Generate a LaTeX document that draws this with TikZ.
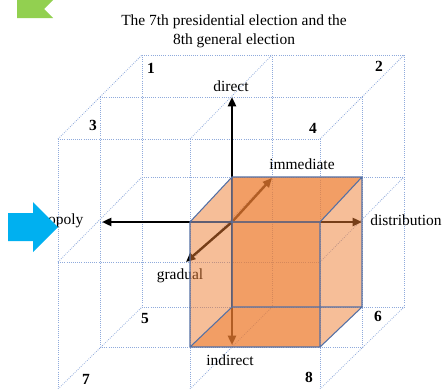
\documentclass[tikz,border=0pt]{standalone}
\usepackage{fontspec}
\setmainfont{Liberation Serif}
\usetikzlibrary{arrows.meta}
\definecolor{gridblue}{RGB}{143,170,220}
\definecolor{boxorange}{RGB}{237,125,49}
\definecolor{boxline}{RGB}{84,112,165}
\definecolor{flaggreen}{RGB}{146,208,80}
\definecolor{arrowcyan}{RGB}{0,176,240}
\newcommand{\labelsize}{\fontsize{11.6}{14.3}\selectfont}
\tikzset{
  gridline/.style={gridblue, densely dotted, line width=0.6pt},
  axis/.style={->, line width=1.8pt},
  boxedge/.style={boxline, line width=0.8pt},
  num/.style={font=\labelsize\bfseries}
}
\begin{document}
\begin{tikzpicture}[x=0.75pt,y=-0.75pt,>={Triangle[length=7pt,width=6pt]},font=\labelsize]
\useasboundingbox (0,0) rectangle (443,389);
% back, middle and front layers of the eight cubes
\draw[gridline] (142,55)--(404,55) (142,177)--(404,177) (142,307)--(404,307)
  (142,55)--(142,307) (272,55)--(272,307) (404,55)--(404,307);
\draw[gridline] (100,97)--(362,97) (100,222)--(362,222) (100,347)--(362,347)
  (100,97)--(100,347) (232,97)--(232,347) (362,97)--(362,347);
\draw[gridline] (58,139)--(320,139) (58,262)--(320,262) (58,389)--(320,389)
  (58,139)--(58,389) (190,139)--(190,389) (320,139)--(320,389);
\draw[gridline] (58,139)--(142,55) (190,139)--(272,55) (320,139)--(404,55)
  (58,262)--(142,177) (190,262)--(272,177) (320,262)--(404,177)
  (58,389)--(142,307) (190,389)--(272,307) (320,389)--(404,307);
% axes
\coordinate (O) at (232,222);
\coordinate (up) at (232,97);
\coordinate (dn) at (232,345);
\coordinate (lt) at (102,222);
\coordinate (rt) at (362,222);
\coordinate (fw) at (272,178);
\coordinate (bw) at (186,262);
\draw[axis] (O)--(up);
\draw[axis] (O)--(dn);
\draw[axis] (O)--(lt);
\draw[axis] (O)--(rt);
\draw[axis] (O)--(fw);
\draw[axis] (O)--(bw);
\node (direct) at (231,86) {direct};
\node (indirect) at (230,360) {indirect};
\node (monopoly) at (52,221) {monopoly};
\node (distribution) at (406,220) {distribution};
\node (immediate) at (302,164) {immediate};
\node (gradual) at (180,276) {gradual};
% the shaded cube
\fill[boxorange, fill opacity=0.75] (232,177)--(362,177)--(320,222)--(320,347)--(190,347)--(232,307)--cycle;
\fill[boxorange, fill opacity=0.5] (190,222)--(232,177)--(232,307)--(190,347)--cycle
  (320,222)--(362,177)--(362,307)--(320,347)--cycle;
\draw[boxedge] (190,222) rectangle (320,347) (232,177) rectangle (362,307)
  (190,222)--(232,177) (320,222)--(362,177) (190,347)--(232,307) (320,347)--(362,307);
% octant numbers
\node[num] (n1) at (151,68) {1};
\node[num] (n2) at (379,66) {2};
\node[num] (n3) at (93,125) {3};
\node[num] (n4) at (313,128) {4};
\node[num] (n5) at (145,319) {5};
\node[num] (n6) at (378,316) {6};
\node[num] (n7) at (86,379) {7};
\node[num] (n8) at (309,377) {8};
\node[align=center] (title) at (234,31) {The 7th presidential election and the\\8th general election};
% markers
\fill[flaggreen] (17,0)--(53,0)--(44,9)--(53,18)--(17,18)--cycle;
\fill[arrowcyan] (8,213)--(33,213)--(33,202)--(58,227)--(33,252)--(33,241)--(8,241)--cycle;
\end{tikzpicture}
\end{document}
